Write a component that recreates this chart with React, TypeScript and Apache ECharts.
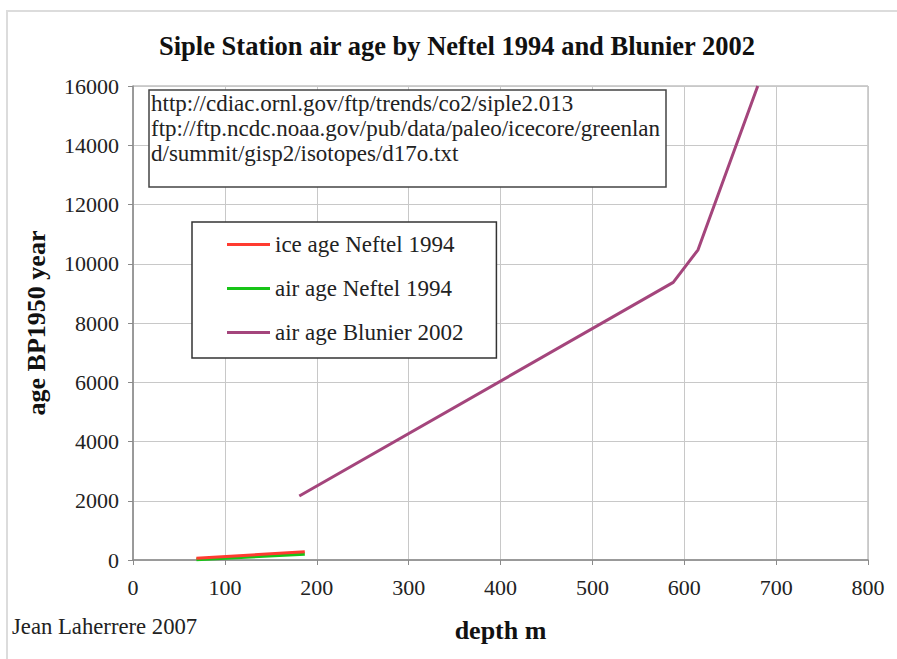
import React, { useEffect, useRef } from "react";
import * as echarts from "echarts";

// depth (m) / age BP1950 (years)
const iceAgeNeftel: [number, number][] = [
  [69, 60],
  [187, 280],
];
const airAgeNeftel: [number, number][] = [
  [69, 20],
  [187, 200],
];
const airAgeBlunier: [number, number][] = [
  [181, 2160],
  [588, 9370],
  [615, 10470],
  [680, 16000],
];

const seriesNames = ["ice age Neftel 1994", "air age Neftel 1994", "air age Blunier 2002"];
const seriesColors = ["#ff3b30", "#17c417", "#a4457c"];

const titleText = "Siple Station air age by Neftel 1994 and Blunier 2002";
const sourceLines = [
  "http://cdiac.ornl.gov/ftp/trends/co2/siple2.013",
  "ftp://ftp.ncdc.noaa.gov/pub/data/paleo/icecore/greenlan",
  "d/summit/gisp2/isotopes/d17o.txt",
];
const creditText = "Jean Laherrere 2007";

const FONT = "Liberation Serif";

export default function App() {
  const ref = useRef<HTMLDivElement>(null);

  useEffect(() => {
    if (!ref.current) return;
    const chart = echarts.init(ref.current, undefined, { renderer: "svg" });
    const data = [iceAgeNeftel, airAgeNeftel, airAgeBlunier];

    chart.setOption({
      animation: false,
      backgroundColor: "#ffffff",
      textStyle: { fontFamily: FONT },
      grid: {
        left: 133,
        top: 86,
        width: 735,
        height: 474,
        show: true,
        borderColor: "#a0a0a0",
        borderWidth: 1,
        backgroundColor: "transparent",
      },
      xAxis: {
        type: "value",
        min: 0,
        max: 800,
        interval: 100,
        name: "depth m",
        nameLocation: "middle",
        nameGap: 57,
        nameTextStyle: { fontFamily: FONT, fontSize: 26, fontWeight: "bold", color: "#111" },
        axisLine: { show: true, lineStyle: { color: "#8a8a8a", width: 1.5 } },
        axisTick: { show: true, inside: false, length: 5, lineStyle: { color: "#8a8a8a" } },
        axisLabel: {
          fontFamily: FONT,
          fontSize: 22,
          color: "#222",
          margin: 16,
          formatter: (v: number) => String(v),
        },
        splitLine: { show: true, lineStyle: { color: "#c8c8c8", width: 1 } },
      },
      yAxis: {
        type: "value",
        min: 0,
        max: 16000,
        interval: 2000,
        name: "age BP1950 year",
        nameLocation: "middle",
        nameGap: 84,
        nameTextStyle: { fontFamily: FONT, fontSize: 26, fontWeight: "bold", color: "#111" },
        axisLine: { show: true, lineStyle: { color: "#8a8a8a", width: 1.5 } },
        axisTick: { show: true, inside: false, length: 5, lineStyle: { color: "#8a8a8a" } },
        axisLabel: {
          fontFamily: FONT,
          fontSize: 22,
          color: "#222",
          margin: 14,
          formatter: (v: number) => String(v),
        },
        splitLine: { show: true, lineStyle: { color: "#c8c8c8", width: 1 } },
      },
      legend: {
        show: true,
        orient: "vertical",
        left: 192,
        top: 222,
        data: seriesNames,
        icon: "rect",
        itemWidth: 43,
        itemHeight: 3,
        itemGap: 21,
        padding: [11, 33, 14, 35],
        borderColor: "#333",
        borderWidth: 1.5,
        backgroundColor: "#ffffff",
        textStyle: { fontFamily: FONT, fontSize: 23, color: "#222", lineHeight: 22 },
      },
      graphic: [
        {
          type: "rect",
          silent: true,
          shape: { x: 7, y: 11, width: 1000, height: 1000 },
          style: { fill: "none", stroke: "#dcdcdc", lineWidth: 2 },
        },
        {
          type: "text",
          x: 457,
          y: 46,
          style: {
            text: titleText,
            fontFamily: FONT,
            fontSize: 26.5,
            fontWeight: "bold",
            fill: "#111",
            align: "center",
            verticalAlign: "middle",
          },
        },
        {
          type: "rect",
          z: 10,
          shape: { x: 149, y: 90, width: 517, height: 97 },
          style: { fill: "#ffffff", stroke: "#444", lineWidth: 1.5 },
        },
        {
          type: "text",
          z: 11,
          x: 151,
          y: 91,
          style: {
            text: sourceLines.join("\n"),
            fontFamily: FONT,
            fontSize: 23,
            lineHeight: 25,
            fill: "#222",
            align: "left",
            verticalAlign: "top",
          },
        },
        {
          type: "text",
          x: 12,
          y: 626,
          style: {
            text: creditText,
            fontFamily: FONT,
            fontSize: 22.7,
            fill: "#222",
            align: "left",
            verticalAlign: "middle",
          },
        },
      ],
      series: seriesNames.map((name, i) => ({
        name,
        type: "line",
        data: data[i],
        symbol: "none",
        showSymbol: false,
        clip: true,
        color: seriesColors[i],
        lineStyle: { color: seriesColors[i], width: i === 1 ? 3.5 : 3 },
        z: 3 - i,
      })),
    });

    return () => chart.dispose();
  }, []);

  return (
    <div
      ref={ref}
      style={{ position: "fixed", left: 0, top: 0, width: 897, height: 659 }}
    />
  );
}
